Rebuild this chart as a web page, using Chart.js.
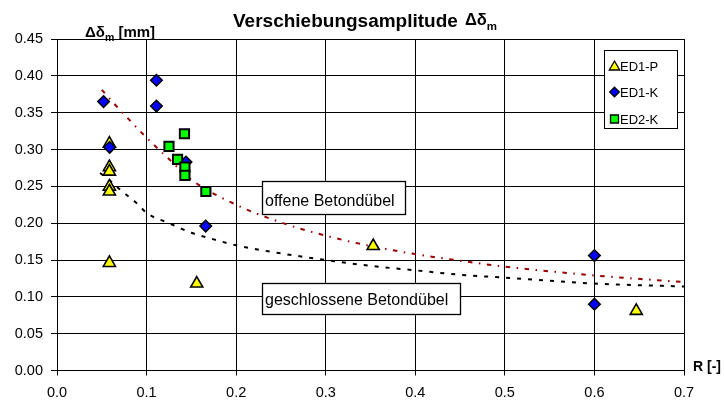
<!DOCTYPE html>
<html><head><meta charset="utf-8">
<script src="https://cdn.jsdelivr.net/npm/chart.js@4"></script>
<style>html,body{margin:0;padding:0;background:#fff}canvas{display:block}</style>
</head><body>
<canvas id="c" width="724" height="405"></canvas>
<script>
// ---- data ----
const seriesNames = ['ED1-P', 'ED1-K', 'ED2-K'];
const ed1pX = [0.0585, 0.0585, 0.0585, 0.0585, 0.0585, 0.0585, 0.156, 0.353, 0.6467];
const ed1pY = [0.308, 0.276, 0.270, 0.2495, 0.243, 0.146, 0.118, 0.169, 0.081];
const ed1kX = [0.052, 0.111, 0.111, 0.0588, 0.144, 0.166, 0.600, 0.600];
const ed1kY = [0.365, 0.394, 0.359, 0.303, 0.283, 0.196, 0.156, 0.090];
const ed2kX = [0.1423, 0.125, 0.1346, 0.1428, 0.1428, 0.1662];
const ed2kY = [0.3214, 0.3043, 0.2867, 0.2762, 0.265, 0.243];
const trendNames = ['offene Betondübel', 'geschlossene Betondübel'];
const offeneX = [0.05, 0.067, 0.084, 0.1, 0.125, 0.15, 0.2, 0.25, 0.3, 0.35, 0.4, 0.45, 0.5, 0.6, 0.7];
const offeneY = [0.381, 0.358, 0.336, 0.316, 0.287, 0.259, 0.225, 0.201, 0.183, 0.169, 0.158, 0.149, 0.141, 0.129, 0.120];
const geschlX = [0.048, 0.06, 0.07, 0.08, 0.09, 0.1, 0.125, 0.15, 0.175, 0.2, 0.25, 0.3, 0.35, 0.4, 0.45, 0.5, 0.6, 0.7];
const geschlY = [0.268, 0.257, 0.246, 0.236, 0.226, 0.214, 0.200, 0.187, 0.178, 0.170, 0.159, 0.150, 0.142, 0.136, 0.130, 0.126, 0.118, 0.114];
const xTickValues = [0, 0.1, 0.2, 0.3, 0.4, 0.5, 0.6, 0.7];
const yTickValues = [0, 0.05, 0.10, 0.15, 0.20, 0.25, 0.30, 0.35, 0.40, 0.45];
const titleText = 'Verschiebungsamplitude';
const yTitleText = ' [mm]';
const xTitleText = 'R [-]';

const pts = (xs, ys) => xs.map((x, i) => ({x: x, y: ys[i]}));
const FONT = '"Liberation Sans", Arial, sans-serif';

function drawTri(ctx, x, y, r) {
  ctx.beginPath();
  ctx.moveTo(x, y - r);
  ctx.lineTo(x + r * 0.866, y + r * 0.5);
  ctx.lineTo(x - r * 0.866, y + r * 0.5);
  ctx.closePath();
}
function drawDia(ctx, x, y, r) {
  ctx.beginPath();
  ctx.moveTo(x, y - r); ctx.lineTo(x + r, y); ctx.lineTo(x, y + r); ctx.lineTo(x - r, y);
  ctx.closePath();
}

const overlay = {
  id: 'overlay',
  afterDraw(chart) {
    const ctx = chart.ctx;
    ctx.save();
    ctx.textAlign = 'left';
    ctx.textBaseline = 'alphabetic';
    ctx.fillStyle = '#000';
    // title
    ctx.font = 'bold 19px ' + FONT;
    ctx.fillText(titleText, 233, 27);
    let tw = ctx.measureText(titleText).width;
    ctx.font = 'bold 16.5px ' + FONT;
    ctx.fillText('\u0394\u03b4', 233 + tw + 7, 24.5);
    let dw = ctx.measureText('\u0394\u03b4').width;
    ctx.font = 'bold 11.5px ' + FONT;
    ctx.fillText('m', 233 + tw + 7 + dw, 30);
    // y title
    ctx.font = 'bold 15px ' + FONT;
    ctx.fillText('\u0394\u03b4', 85, 37);
    dw = ctx.measureText('\u0394\u03b4').width;
    ctx.font = 'bold 10.5px ' + FONT;
    ctx.fillText('m', 85 + dw, 41);
    const mw = ctx.measureText('m').width;
    ctx.font = 'bold 15px ' + FONT;
    ctx.fillText(yTitleText, 85 + dw + mw, 37);
    // x title
    ctx.font = 'bold 14px ' + FONT;
    ctx.fillText(xTitleText, 693, 371);

    // annotation boxes
    function box(x, y, w, h, text, tx, ty) {
      ctx.fillStyle = '#fff';
      ctx.fillRect(x, y, w, h);
      ctx.strokeStyle = '#000';
      ctx.lineWidth = 1.3;
      ctx.strokeRect(x + 0.5, y + 0.5, w, h);
      ctx.fillStyle = '#000';
      ctx.font = '16px ' + FONT;
      ctx.fillText(text, tx, ty);
    }
    box(262, 181, 143, 33, trendNames[0], 265, 206);
    box(262, 283, 198, 31, trendNames[1], 265, 305);

    // legend
    ctx.fillStyle = '#fff';
    ctx.fillRect(604, 50, 74, 78);
    ctx.strokeStyle = '#000';
    ctx.lineWidth = 1;
    ctx.strokeRect(604.5, 50.5, 73, 78);
    ctx.lineWidth = 1.3;
    drawTri(ctx, 614.5, 67, 6);
    ctx.fillStyle = '#FFFF00'; ctx.fill(); ctx.stroke();
    drawDia(ctx, 614.5, 92, 4.8);
    ctx.fillStyle = '#0000FF'; ctx.fill(); ctx.stroke();
    ctx.beginPath(); ctx.rect(610.5, 115, 8, 8);
    ctx.fillStyle = '#00FF00'; ctx.fill(); ctx.stroke();
    ctx.fillStyle = '#000';
    ctx.font = '13px ' + FONT;
    ctx.fillText(seriesNames[0], 620, 70.5);
    ctx.fillText(seriesNames[1], 620, 96.5);
    ctx.fillText(seriesNames[2], 620, 124);
    ctx.restore();
  }
};

new Chart(document.getElementById('c'), {
  type: 'scatter',
  data: {
    datasets: [
      {label: seriesNames[2], data: pts(ed2kX, ed2kY), order: 1,
       pointStyle: 'rect', pointRadius: 6.5, backgroundColor: '#00FF00', borderColor: '#000', pointBorderWidth: 2},
      {label: seriesNames[1], data: pts(ed1kX, ed1kY), order: 2,
       pointStyle: 'rectRot', pointRadius: 5.8, backgroundColor: '#0000FF', borderColor: '#000', pointBorderWidth: 1.5},
      {label: seriesNames[0], data: pts(ed1pX, ed1pY), order: 3,
       pointStyle: 'triangle', pointRadius: 7, backgroundColor: '#FFFF00', borderColor: '#000', pointBorderWidth: 1.6},
      {label: trendNames[0], data: pts(offeneX, offeneY), order: 4, showLine: true, pointRadius: 0,
       borderColor: '#990000', borderWidth: 2, borderDash: [4.5, 6.5, 1.5, 6.5], cubicInterpolationMode: 'monotone', fill: false},
      {label: trendNames[1], data: pts(geschlX, geschlY), order: 5, showLine: true, pointRadius: 0,
       borderColor: '#000', borderWidth: 2, borderDash: [4, 7], cubicInterpolationMode: 'monotone', fill: false}
    ]
  },
  options: {
    responsive: false,
    animation: false,
    events: [],
    devicePixelRatio: 1,
    layout: {padding: {top: 39, right: 40, left: 0, bottom: 0}},
    plugins: {legend: {display: false}, tooltip: {enabled: false}, title: {display: false}},
    scales: {
      x: {
        type: 'linear', min: 0, max: 0.7,
        afterBuildTicks: s => { s.ticks = xTickValues.map(v => ({value: v})); },
        afterFit: s => { s.height = 34.5; },
        ticks: {callback: v => v.toFixed(1), color: '#000', font: {family: FONT, size: 14.5}, padding: 9, maxRotation: 0},
        grid: {color: '#000', lineWidth: 1, tickLength: 5},
        border: {color: '#000', width: 1}
      },
      y: {
        type: 'linear', min: 0, max: 0.45,
        afterBuildTicks: s => { s.ticks = yTickValues.map(v => ({value: v})); },
        afterFit: s => { s.width = 57; },
        ticks: {callback: v => v.toFixed(2), color: '#000', font: {family: FONT, size: 14.5}, padding: 8},
        grid: {color: '#000', lineWidth: 1, tickLength: 6},
        border: {color: '#000', width: 1}
      }
    }
  },
  plugins: [overlay]
});
</script>
</body></html>
